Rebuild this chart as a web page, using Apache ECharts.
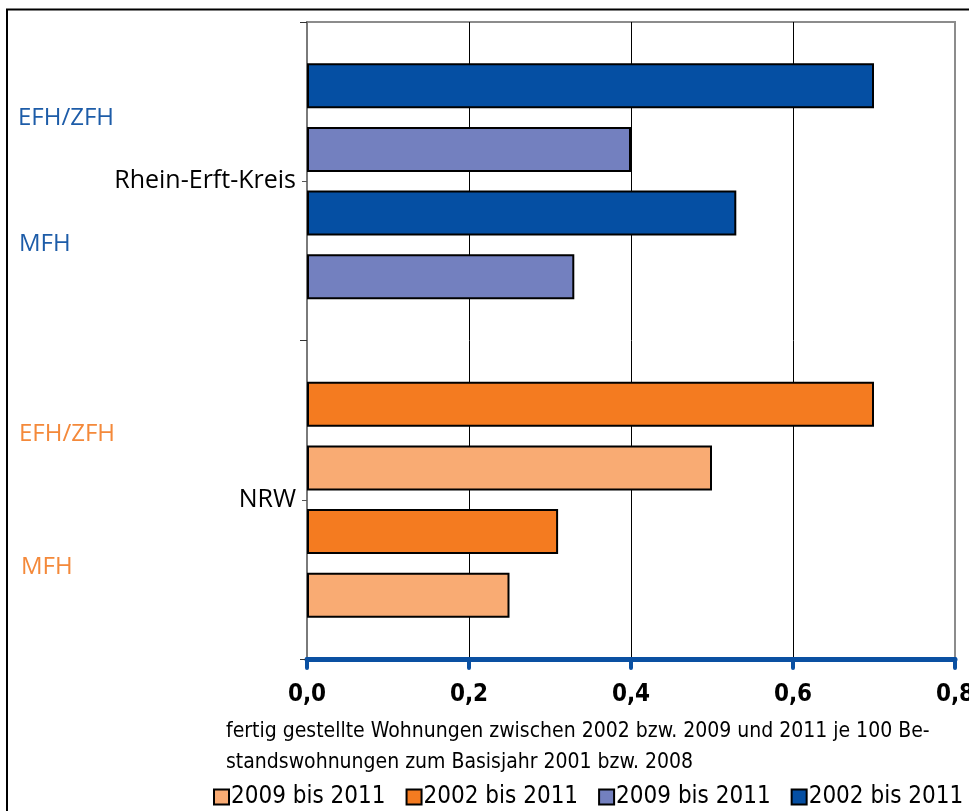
<!DOCTYPE html>
<html>
<head>
<meta charset="utf-8">
<script src="https://cdn.jsdelivr.net/npm/echarts@6/dist/echarts.min.js"></script>
<style>html,body{margin:0;padding:0;background:#fff}#c{width:969px;height:811px}</style>
</head>
<body>
<div id="c"></div>
<script>
// ---- data ----
const regions = ['Rhein-Erft-Kreis', 'NRW'];
const housingTypes = ['EFH/ZFH', 'MFH'];
const xTicks = [0, 0.2, 0.4, 0.6, 0.8];
const legendNames = ['2009 bis 2011', '2002 bis 2011', '2009 bis 2011', '2002 bis 2011'];
// values per housing type [EFH/ZFH, MFH]
const reK2002 = [0.70, 0.53];
const reK2009 = [0.40, 0.33];
const nrw2002 = [0.70, 0.31];
const nrw2009 = [0.50, 0.25];
const axisTitle1 = 'fertig gestellte Wohnungen zwischen 2002 bzw. 2009 und 2011 je 100 Be-';
const axisTitle2 = 'standswohnungen zum Basisjahr 2001 bzw. 2008';

// slot layout: 11 positions top->bottom, bars in slots 1-4 (RE) and 6-9 (NRW)
const slotCount = 11;
const slots = Array.from({length: slotCount}, (_, i) => 's' + i);
function slotData(vals, firstSlot) {
  const d = new Array(slotCount).fill(null);
  d[firstSlot] = vals[0];      // EFH/ZFH
  d[firstSlot + 2] = vals[1];  // MFH
  return d;
}

const C = {
  lorange: '#f9ab73', orange: '#f47b20', lblue: '#7380bf', dblue: '#054fa3'
};
const condensed = '"Liberation Sans Narrow", "DejaVu Sans Condensed", "Arial Narrow", sans-serif';
const sans = '"Open Sans", "Noto Sans", sans-serif';

function barSeries(name, color, data) {
  return {
    name: name, type: 'bar', yAxisIndex: 0, barWidth: 45, barGap: '-100%',
    itemStyle: {color: color, borderColor: '#000', borderWidth: 2},
    data: data, animation: false
  };
}

const chart = echarts.init(document.getElementById('c'), null, {renderer: 'canvas'});
chart.setOption({
  backgroundColor: '#fff',
  animation: false,
  grid: {left: 307, right: 14, top: 22, bottom: 152, outerBoundsMode: 'none', containLabel: false,
    show: true, borderColor: '#8c8c8c', borderWidth: 2, backgroundColor: 'transparent'},
  xAxis: {
    type: 'value', min: 0, max: 0.8, interval: 0.2,
    axisLine: {show: true, lineStyle: {color: '#0a50a2', width: 5, cap: 'round'}},
    axisTick: {show: true, length: 9, lineStyle: {color: '#0a50a2', width: 4, cap: 'round'}},
    axisLabel: {
      margin: 24, fontSize: 24, fontWeight: 'bold', color: '#000', fontFamily: condensed,
      formatter: v => v.toFixed(1).replace('.', ',')
    },
    splitLine: {show: true, lineStyle: {color: ['#8c8c8c', '#000', '#000', '#000', '#8c8c8c'], width: 1}}
  },
  yAxis: [
    {
      type: 'category', data: slots, inverse: true, boundaryGap: false,
      show: false
    },
    {
      type: 'category', data: regions, inverse: true, boundaryGap: true, position: 'left',
      axisLine: {show: true, lineStyle: {color: '#7a7a7a', width: 2}},
      axisTick: {show: true, length: 7, alignWithLabel: false, lineStyle: {color: '#333', width: 1}},
      axisLabel: {margin: 11, fontSize: 25, color: '#000', fontFamily: sans},
      splitLine: {show: false}
    },
    {
      type: 'category', data: regions, inverse: true, boundaryGap: true, position: 'left',
      axisLine: {show: false},
      axisTick: {show: true, length: 5, alignWithLabel: true, lineStyle: {color: '#555', width: 1}},
      axisLabel: {show: false},
      splitLine: {show: false}
    }
  ],
  legend: {
    left: 213, top: 785, width: 800, padding: 0, itemWidth: 15, itemHeight: 15, itemGap: 20, icon: 'rect',
    data: ['NRW 2009', 'NRW 2002', 'RE 2009', 'RE 2002'],
    formatter: n => ({'NRW 2009': legendNames[0], 'NRW 2002': legendNames[1], 'RE 2009': legendNames[2], 'RE 2002': legendNames[3]})[n],
    textStyle: {fontSize: 24, color: '#000', fontFamily: condensed, padding: [0, 0, 0, -3]},
    itemStyle: {borderColor: '#000', borderWidth: 2}
  },
  series: [
    barSeries('NRW 2009', C.lorange, slotData(nrw2009, 7)),
    barSeries('NRW 2002', C.orange, slotData(nrw2002, 6)),
    barSeries('RE 2009', C.lblue, slotData(reK2009, 2)),
    barSeries('RE 2002', C.dblue, slotData(reK2002, 1))
  ],
  graphic: [
    {type: 'rect', shape: {x: 7, y: 9.5, width: 1000, height: 1000}, style: {fill: 'none', stroke: '#000', lineWidth: 2}, silent: true},
    {type: 'text', left: 18, top: 106, style: {text: housingTypes[0], fill: '#1d5ca8', font: '24px ' + sans}},
    {type: 'text', left: 19, top: 232, style: {text: housingTypes[1], fill: '#1d5ca8', font: '24px ' + sans}},
    {type: 'text', left: 19, top: 422, style: {text: housingTypes[0], fill: '#f4893a', font: '24px ' + sans}},
    {type: 'text', left: 21, top: 555, style: {text: housingTypes[1], fill: '#f4893a', font: '24px ' + sans}},
    {type: 'text', left: 226, top: 721, style: {text: axisTitle1, fill: '#000', font: '21px ' + condensed}},
    {type: 'text', left: 226, top: 752, style: {text: axisTitle2, fill: '#000', font: '21px ' + condensed}}
  ]
});
</script>
</body>
</html>
